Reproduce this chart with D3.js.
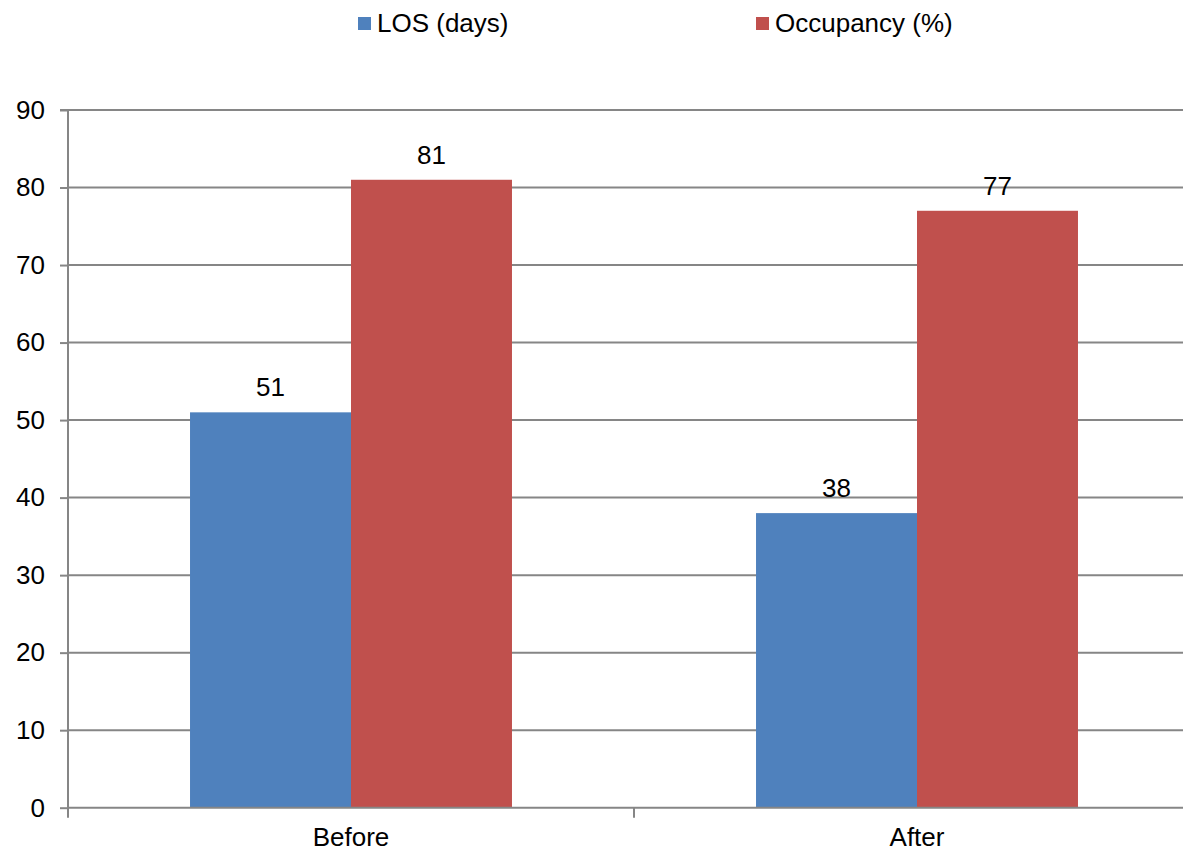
<!DOCTYPE html>
<html>
<head>
<meta charset="utf-8">
<script src="https://cdn.jsdelivr.net/npm/d3@7"></script>
<style>
  html, body { margin: 0; padding: 0; background: #fff; }
  svg { display: block; font-family: "Liberation Sans", Arial, sans-serif; }
</style>
</head>
<body>
<svg id="chart" width="1183" height="853"></svg>
<script>
// Hospital stay metrics before and after the intervention
const categories = ["Before", "After"];
const seriesNames = ["LOS (days)", "Occupancy (%)"];
const losValues = [51, 38];
const occupancyValues = [81, 77];
const yTicks = [0, 10, 20, 30, 40, 50, 60, 70, 80, 90];
const seriesColors = ["#4F81BD", "#C0504D"];

const seriesValues = [losValues, occupancyValues];
const rows = categories.map((c, i) => ({
  category: c,
  values: seriesNames.map((s, j) => ({ series: s, value: seriesValues[j][i], color: seriesColors[j] }))
}));

const svg = d3.select("#chart");
const plotLeft = 68, plotRight = 1200, plotTop = 110, plotBottom = 807.7;

const x = d3.scaleBand().domain(categories).range([plotLeft, plotRight]).paddingInner(0).paddingOuter(0);
const xSeries = d3.scaleBand().domain(seriesNames).range([0, x.bandwidth()]).paddingInner(0).paddingOuter(0.758);
const y = d3.scaleLinear().domain([0, 90]).range([plotBottom, plotTop]);

const gridColor = "#868686";

// horizontal gridlines
svg.append("g")
  .selectAll("line")
  .data(yTicks.filter(d => d > 0))
  .join("line")
  .attr("x1", plotLeft).attr("x2", plotRight)
  .attr("y1", d => y(d)).attr("y2", d => y(d))
  .attr("stroke", gridColor).attr("stroke-width", 2);

// bars
const groups = svg.append("g")
  .selectAll("g")
  .data(rows)
  .join("g")
  .attr("transform", d => `translate(${x(d.category)},0)`);

groups.selectAll("rect")
  .data(d => d.values)
  .join("rect")
  .attr("x", d => xSeries(d.series))
  .attr("width", xSeries.bandwidth())
  .attr("y", d => y(d.value))
  .attr("height", d => y(0) - y(d.value))
  .attr("fill", d => d.color);

// value labels
groups.selectAll("text")
  .data(d => d.values)
  .join("text")
  .attr("x", d => xSeries(d.series) + xSeries.bandwidth() / 2)
  .attr("y", d => y(d.value) - 16)
  .attr("text-anchor", "middle")
  .attr("font-size", 26)
  .attr("fill", "#000")
  .text(d => d.value);

// y axis
const yAxis = svg.append("g")
  .attr("transform", `translate(${plotLeft},0)`)
  .call(d3.axisLeft(y).tickValues(yTicks).tickSize(8).tickPadding(15).tickFormat(d3.format("d")));
yAxis.select(".domain").attr("stroke", gridColor).attr("stroke-width", 2)
  .attr("d", `M-8,${plotTop}H0V${plotBottom}`);
yAxis.selectAll(".tick line").attr("stroke", gridColor).attr("stroke-width", 2);
yAxis.selectAll(".tick text")
  .attr("font-size", 26).attr("fill", "#000")
  .attr("font-family", "Liberation Sans, Arial, sans-serif");

// x axis
const xAxis = svg.append("g")
  .attr("transform", `translate(0,${plotBottom})`)
  .call(d3.axisBottom(x).tickSize(0).tickPadding(20));
xAxis.select(".domain").attr("stroke", gridColor).attr("stroke-width", 2)
  .attr("d", `M${plotLeft},0H${plotRight}`);
xAxis.selectAll(".tick text")
  .attr("font-size", 26).attr("fill", "#000")
  .attr("font-family", "Liberation Sans, Arial, sans-serif");

// category separators on the x axis
svg.append("g")
  .selectAll("line")
  .data([...categories.map(c => x(c)), plotRight])
  .join("line")
  .attr("x1", d => d).attr("x2", d => d)
  .attr("y1", plotBottom).attr("y2", plotBottom + 10)
  .attr("stroke", gridColor).attr("stroke-width", 2);

// legend
const legendItems = [
  { name: seriesNames[0], color: seriesColors[0], x: 358 },
  { name: seriesNames[1], color: seriesColors[1], x: 756 }
];
const legend = svg.append("g")
  .selectAll("g")
  .data(legendItems)
  .join("g")
  .attr("transform", d => `translate(${d.x},0)`);
legend.append("rect")
  .attr("x", 0).attr("y", 17).attr("width", 13).attr("height", 13)
  .attr("fill", d => d.color);
legend.append("text")
  .attr("x", 19).attr("y", 32)
  .attr("font-size", 26).attr("fill", "#000")
  .text(d => d.name);
</script>
</body>
</html>
